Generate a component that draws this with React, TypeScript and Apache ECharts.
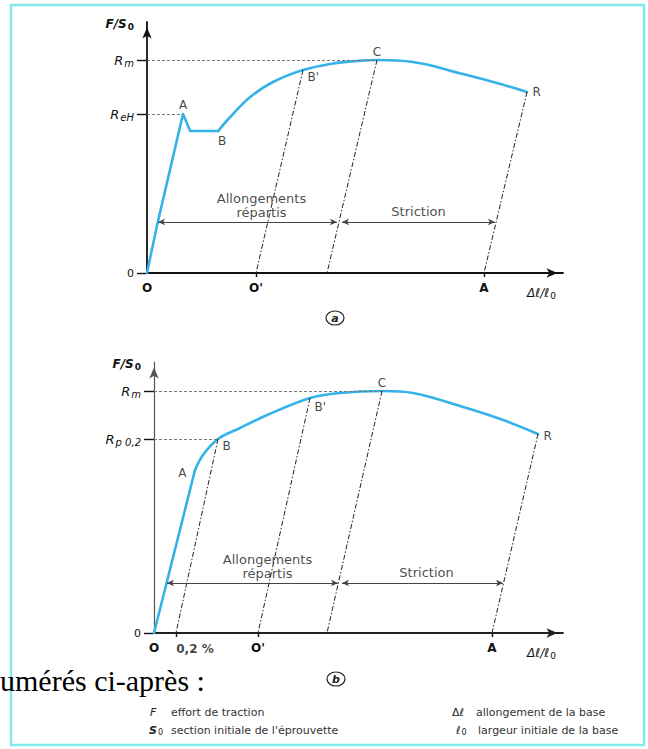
import React, { useEffect, useRef } from "react";
import * as echarts from "echarts";

const FONT = "DejaVu Sans";

// ---------- Diagram (a): yield plateau ----------
// points [strain, stress] in normalised units
const elasticA: number[][] = [[0, 0], [2.5, 19], [9, 63.6], [10.8, 56.8], [17.8, 56.8]];
const plasticA: number[][] = [[17.8, 56.8], [20.8, 62.4], [25.8, 70.4], [31.5, 76.4], [39, 81.2], [46.5, 83.8], [52.5, 84.8], [57.5, 85.2], [66.5, 84.4], [79, 79.6], [87.5, 76], [95, 72.4]];
const feetA: number[] = [27.25, 45, 84.25]; // O', foot under C, A
const dimYA = 20.4;
const dimA: number[] = [2.75, 47.5, 48.75, 87];

// ---------- Diagram (b): no plateau, Rp0,2 ----------
const elasticB: number[][] = [[0, 0], [10.25, 65.2]];
const plasticB: number[][] = [[10.25, 65.2], [12.25, 71.2], [16, 77.6], [21.5, 82], [28.3, 87.2], [39, 94], [46.5, 96], [57, 96.8], [64.8, 96], [77.3, 90.4], [87.3, 85.2], [96, 79.6]];
const feetB: number[] = [5.5, 26, 43.25, 84.5]; // 0,2 %, O', foot under C, A
const dimYB = 20;
const dimB: number[] = [3.25, 46, 47, 87.25];

const near = (a: number, b: number) => Math.abs(a - b) < 1e-6;

const subRich = {
  r: { fontStyle: "italic", fontSize: 13, fontFamily: FONT, color: "#111" },
  sub: { fontStyle: "italic", fontSize: 10, fontFamily: FONT, color: "#111", verticalAlign: "bottom", padding: [7, 0, 0, 1] },
  z: { fontSize: 11, fontFamily: FONT, color: "#111" },
  f: { fontStyle: "italic", fontWeight: "bold", fontSize: 12, fontFamily: FONT, color: "#111" },
  fs: { fontWeight: "bold", fontSize: 9, fontFamily: FONT, color: "#111", verticalAlign: "bottom", padding: [6, 0, 0, 1] },
  d: { fontStyle: "italic", fontSize: 12, fontFamily: FONT, color: "#111" },
  ds: { fontSize: 9, fontFamily: FONT, color: "#111", verticalAlign: "bottom", padding: [6, 0, 0, 1] },
};

function xAxis(grid: number, max: number, ticks: number[], labels: number[], names: string[], lineColor: string) {
  return {
    type: "value",
    gridIndex: grid,
    min: 0,
    max,
    splitLine: { show: false },
    axisLine: {
      show: true,
      onZero: false,
      lineStyle: { color: lineColor, width: 1.8 },
      symbol: ["none", "arrow"],
      symbolSize: [7, 11],
      symbolOffset: [0, -5.5],
    },
    axisTick: { show: true, customValues: ticks, length: 4, lineStyle: { color: "#111", width: 1.4 } },
    axisLabel: {
      show: true,
      customValues: labels,
      formatter: (v: number) => {
        const i = labels.findIndex((l) => near(l, v));
        return i >= 0 ? names[i] : "";
      },
      margin: 9,
      color: "#111",
      fontFamily: FONT,
      fontSize: 12,
      fontWeight: "bold",
    },
    name: "{d|Δℓ/ℓ}{ds|0}",
    nameLocation: "end",
    nameGap: -36,
    nameMoveOverlap: false,
    nameTextStyle: { align: "left", verticalAlign: "top", padding: [12, 0, 0, 0], rich: subRich },
  };
}

function yAxis(grid: number, max: number, values: number[], names: string[], lineColor: string, lineWidth: number) {
  return {
    type: "value",
    gridIndex: grid,
    min: 0,
    max,
    splitLine: { show: false },
    axisLine: {
      show: true,
      onZero: false,
      lineStyle: { color: lineColor, width: lineWidth },
      symbol: ["none", "arrow"],
      symbolSize: [7, 11],
      symbolOffset: [0, -5.5],
    },
    axisTick: { show: true, customValues: values, length: 10, lineStyle: { color: "#111", width: 1.4 } },
    axisLabel: {
      show: true,
      customValues: values,
      formatter: (v: number) => {
        const i = values.findIndex((l) => near(l, v));
        return i >= 0 ? names[i] : "";
      },
      margin: 13,
      rich: subRich,
    },
    name: "{f|F/S}{fs|0}",
    nameLocation: "end",
    nameGap: -9,
    nameMoveOverlap: false,
    nameTextStyle: { align: "right", verticalAlign: "bottom", padding: [0, 13, 0, 0], rich: subRich },
  };
}

const curveStyle = { color: "#35b2e8", width: 2.6, cap: "round", join: "round" };
const unloadStyle = { color: "#222", width: 1, type: [5, 2, 1.5, 2] };
const levelStyle = { color: "#777", width: 1, type: [3, 2] };
const dimStyle = { color: "#444", width: 1.2, type: "solid" };

function seg(p: number[], q: number[]) {
  return [{ coord: p }, { coord: q }];
}

function lbl(p: number[], name: string, position: string, offset: number[] = [0, 0], distance = 4, extra: any = {}) {
  return { value: p, name, label: { position, offset, distance, ...extra } };
}

const labelText = { fontFamily: FONT, fontSize: 12, color: "#111" };
const regionText = { fontSize: 13, lineHeight: 14, color: "#1a1a1a", align: "center" };

function buildOption() {
  const A_A = elasticA[2];
  const B_A = elasticA[4];
  const Bp_A = plasticA[4];
  const C_A = plasticA[7];
  const R_A = plasticA[11];

  const A_B = elasticB[1];
  const B_B = plasticB[2];
  const Bp_B = plasticB[5];
  const C_B = plasticB[7];
  const R_B = plasticB[11];

  const hidden = { color: "rgba(0,0,0,0)" };

  return {
    animation: false,
    backgroundColor: "#ffffff",
    grid: [
      { left: 147, top: 22, width: 416, height: 251, containLabel: false, outerBoundsMode: "none" },
      { left: 154, top: 362, width: 409, height: 271, containLabel: false, outerBoundsMode: "none" },
    ],
    xAxis: [
      xAxis(0, 104, [feetA[0], feetA[2]], [0, feetA[0], feetA[2]], ["O", "O'", "A"], "#111"),
      xAxis(1, 102.25, [feetB[0], feetB[1], feetB[3]], [0, feetB[1], feetB[3]], ["O", "O'", "A"], "#222"),
    ],
    yAxis: [
      yAxis(0, 100.4, [0, A_A[1], C_A[1]], ["{z|0}", "{r|R}{sub|eH}", "{r|R}{sub|m}"], "#111", 1.8),
      yAxis(1, 108.4, [0, B_B[1], C_B[1]], ["{z|0}", "{r|R}{sub|p 0,2}", "{r|R}{sub|m}"], "#555", 1.2),
    ],
    series: [
      // ---- (a)
      {
        type: "line",
        name: "a-elastic",
        xAxisIndex: 0,
        yAxisIndex: 0,
        data: elasticA,
        symbol: "none",
        lineStyle: curveStyle,
        silent: true,
        markLine: {
          silent: true,
          symbol: "none",
          label: { show: false },
          lineStyle: levelStyle,
          data: [seg([0, C_A[1]], C_A), seg([0, A_A[1]], A_A)],
        },
      },
      {
        type: "line",
        name: "a-plastic",
        xAxisIndex: 0,
        yAxisIndex: 0,
        data: plasticA,
        smooth: 0.4,
        symbol: "none",
        lineStyle: curveStyle,
        silent: true,
        markLine: {
          silent: true,
          symbol: "none",
          label: { show: false },
          lineStyle: unloadStyle,
          data: [seg(Bp_A, [feetA[0], 0]), seg(C_A, [feetA[1], 0]), seg(R_A, [feetA[2], 0])],
        },
      },
      {
        type: "scatter",
        name: "a-labels",
        xAxisIndex: 0,
        yAxisIndex: 0,
        symbolSize: 1,
        itemStyle: hidden,
        silent: true,
        label: { show: true, formatter: "{b}", ...labelText },
        data: [
          lbl(A_A, "A", "top", [0, 0], 3),
          lbl(B_A, "B", "bottom", [4, -1], 4),
          lbl(Bp_A, "B'", "right", [0, 7], 4),
          lbl(C_A, "C", "top", [0, 0], 2),
          lbl(R_A, "R", "right", [0, 0], 5),
          lbl([(dimA[0] + dimA[1]) / 2, dimYA], "Allongements\nrépartis", "top", [14, 0], 2, regionText),
          lbl([(dimA[2] + dimA[3]) / 2, dimYA], "Striction", "top", [0, 0], 3, regionText),
        ],
        markLine: {
          silent: true,
          symbol: ["arrow", "arrow"],
          symbolSize: [5, 7],
          label: { show: false },
          lineStyle: dimStyle,
          data: [seg([dimA[0], dimYA], [dimA[1], dimYA]), seg([dimA[2], dimYA], [dimA[3], dimYA])],
        },
      },
      // ---- (b)
      {
        type: "line",
        name: "b-elastic",
        xAxisIndex: 1,
        yAxisIndex: 1,
        data: elasticB,
        symbol: "none",
        lineStyle: curveStyle,
        silent: true,
        markLine: {
          silent: true,
          symbol: "none",
          label: { show: false },
          lineStyle: levelStyle,
          data: [seg([0, C_B[1]], C_B), seg([0, B_B[1]], B_B)],
        },
      },
      {
        type: "line",
        name: "b-plastic",
        xAxisIndex: 1,
        yAxisIndex: 1,
        data: plasticB,
        smooth: 0.35,
        symbol: "none",
        lineStyle: curveStyle,
        silent: true,
        markLine: {
          silent: true,
          symbol: "none",
          label: { show: false },
          lineStyle: unloadStyle,
          data: [seg(B_B, [feetB[0], 0]), seg(Bp_B, [feetB[1], 0]), seg(C_B, [feetB[2], 0]), seg(R_B, [feetB[3], 0])],
        },
      },
      {
        type: "scatter",
        name: "b-labels",
        xAxisIndex: 1,
        yAxisIndex: 1,
        symbolSize: 1,
        itemStyle: hidden,
        silent: true,
        label: { show: true, formatter: "{b}", ...labelText },
        data: [
          lbl(A_B, "A", "left", [0, 3], 8),
          lbl(B_B, "B", "right", [0, 7], 4),
          lbl(Bp_B, "B'", "right", [0, 9], 4),
          lbl(C_B, "C", "top", [0, 0], 2),
          lbl(R_B, "R", "right", [0, 2], 5),
          lbl([feetB[0], 0], "0,2 %", "bottom", [19, 4], 5, { fontWeight: "bold" }),
          lbl([(dimB[0] + dimB[1]) / 2, dimYB], "Allongements\nrépartis", "top", [15, 0], 2, regionText),
          lbl([(dimB[2] + dimB[3]) / 2, dimYB], "Striction", "top", [4, 0], 3, regionText),
        ],
        markLine: {
          silent: true,
          symbol: ["arrow", "arrow"],
          symbolSize: [5, 7],
          label: { show: false },
          lineStyle: dimStyle,
          data: [seg([dimB[0], dimYB], [dimB[1], dimYB]), seg([dimB[2], dimYB], [dimB[3], dimYB])],
        },
      },
    ],
    graphic: [
      {
        type: "rect",
        silent: true,
        shape: { x: 11, y: 5, width: 633, height: 740 },
        style: { fill: "none", stroke: "#84e9ea", lineWidth: 2.5 },
      },
      { type: "ellipse", silent: true, shape: { cx: 335, cy: 318, rx: 9, ry: 7 }, style: { fill: "none", stroke: "#222", lineWidth: 1.2 } },
      { type: "text", silent: true, x: 335, y: 318, style: { text: "a", fontStyle: "italic", fontWeight: "bold", fontSize: 11, fontFamily: FONT, fill: "#222", align: "center", verticalAlign: "middle" } },
      { type: "ellipse", silent: true, shape: { cx: 336, cy: 679, rx: 9, ry: 7 }, style: { fill: "none", stroke: "#222", lineWidth: 1.2 } },
      { type: "text", silent: true, x: 336, y: 679, style: { text: "b", fontStyle: "italic", fontWeight: "bold", fontSize: 11, fontFamily: FONT, fill: "#222", align: "center", verticalAlign: "middle" } },
      { type: "text", silent: true, x: 0, y: 680, style: { text: "umérés ci-après :", fontSize: 30, fontFamily: "Liberation Serif", fill: "#000", verticalAlign: "middle" } },
      // legend
      { type: "text", silent: true, x: 150, y: 712, style: { text: "F", fontStyle: "italic", fontSize: 11, fontFamily: FONT, fill: "#222", verticalAlign: "middle" } },
      { type: "text", silent: true, x: 171, y: 712, style: { text: "effort de traction", fontSize: 11, fontFamily: FONT, fill: "#333", verticalAlign: "middle" } },
      {
        type: "text", silent: true, x: 149, y: 730,
        style: {
          text: "{s|S}{z|0}", verticalAlign: "middle",
          rich: {
            s: { fontStyle: "italic", fontWeight: "bold", fontSize: 11, fontFamily: FONT, fill: "#222" },
            z: { fontSize: 8, fontFamily: FONT, fill: "#222", verticalAlign: "bottom", padding: [5, 0, 0, 1] },
          },
        },
      },
      { type: "text", silent: true, x: 171, y: 730, style: { text: "section initiale de l'éprouvette", fontSize: 11, fontFamily: FONT, fill: "#333", verticalAlign: "middle" } },
      { type: "text", silent: true, x: 452, y: 712, style: { text: "Δℓ", fontSize: 11, fontFamily: FONT, fill: "#222", verticalAlign: "middle" } },
      { type: "text", silent: true, x: 476, y: 712, style: { text: "allongement de la base", fontSize: 11, fontFamily: FONT, fill: "#333", verticalAlign: "middle" } },
      {
        type: "text", silent: true, x: 456, y: 730,
        style: {
          text: "{l|ℓ}{z|0}", verticalAlign: "middle",
          rich: {
            l: { fontStyle: "italic", fontSize: 11, fontFamily: FONT, fill: "#222" },
            z: { fontSize: 8, fontFamily: FONT, fill: "#222", verticalAlign: "bottom", padding: [5, 0, 0, 1] },
          },
        },
      },
      { type: "text", silent: true, x: 478, y: 730, style: { text: "largeur initiale de la base", fontSize: 11, fontFamily: FONT, fill: "#333", verticalAlign: "middle" } },
    ],
  };
}

export default function App() {
  const ref = useRef<HTMLDivElement>(null);
  useEffect(() => {
    if (!ref.current) return;
    const chart = echarts.init(ref.current, undefined, { renderer: "svg" });
    chart.setOption(buildOption() as any);
    return () => chart.dispose();
  }, []);
  return <div ref={ref} style={{ position: "fixed", left: 0, top: 0, width: 648, height: 749 }} />;
}
